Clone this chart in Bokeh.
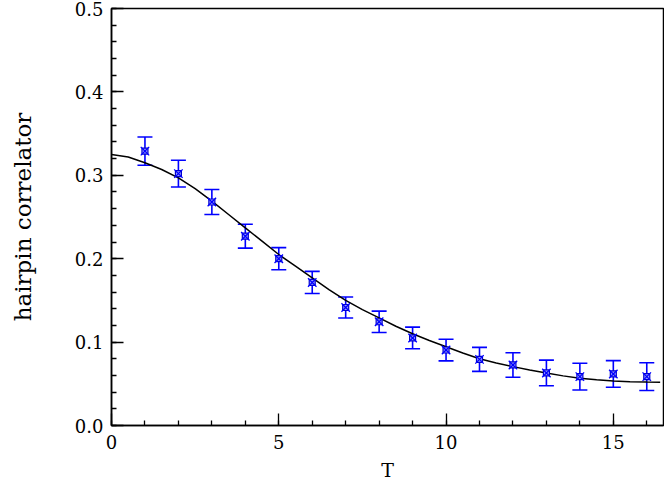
from bokeh.plotting import figure
from bokeh.models import (ColumnDataSource, SingleIntervalTicker, NumeralTickFormatter,
                          Whisker, TeeHead, Range1d)
from bokeh.embed import file_html
from bokeh.resources import INLINE

# ---- data ----
T = [1, 2, 3, 4, 5, 6, 7, 8, 9, 10, 11, 12, 13, 14, 15, 16]
corr = [0.329, 0.302, 0.268, 0.227, 0.200, 0.1715, 0.1415, 0.1244, 0.105, 0.0905,
        0.0793, 0.0726, 0.063, 0.0586, 0.0618, 0.0586]
err = [0.017, 0.016, 0.015, 0.0143, 0.0133, 0.0133, 0.0126, 0.0128, 0.013, 0.013,
       0.0144, 0.0147, 0.0154, 0.016, 0.016, 0.0167]

fit_T = [0, 0.5, 1, 1.5, 2, 2.5, 3, 3.5, 4, 4.5, 5, 5.5, 6, 6.5, 7, 7.5, 8, 8.5,
         9, 9.5, 10, 10.5, 11, 11.5, 12, 12.5, 13, 13.5, 14, 14.5, 15, 15.5, 16, 16.4]
fit_c = [0.325, 0.322, 0.315, 0.307, 0.297, 0.284, 0.269, 0.253, 0.237, 0.221,
         0.205, 0.191, 0.177, 0.163, 0.150, 0.139, 0.129, 0.119, 0.110, 0.102,
         0.0945, 0.087, 0.080, 0.075, 0.0706, 0.0665, 0.063, 0.0595, 0.0566, 0.0548,
         0.0534, 0.0526, 0.0522, 0.052]

x_label = "T"
y_label = "hairpin correlator"

FONT = "DejaVu Serif"

p = figure(output_backend="svg", toolbar_location=None,
           x_range=Range1d(0, 16.5), y_range=Range1d(0, 0.5),
           min_border_left=111, min_border_top=8, min_border_right=1, min_border_bottom=0,
           frame_width=552, frame_height=417)

p.xgrid.visible = False
p.ygrid.visible = False
p.outline_line_color = "black"
p.outline_line_width = 1.5
p.background_fill_color = "white"

# axes
p.xaxis.ticker = SingleIntervalTicker(interval=5, num_minor_ticks=5)
p.yaxis.ticker = SingleIntervalTicker(interval=0.1, num_minor_ticks=5)
p.yaxis.formatter = NumeralTickFormatter(format="0.0")
for ax in (p.xaxis[0], p.yaxis[0]):
    ax.axis_line_width = 1.5
    ax.axis_line_color = "black"
    ax.major_tick_in = 12
    ax.major_tick_out = 0
    ax.minor_tick_in = 5
    ax.minor_tick_out = 0
    ax.major_tick_line_width = 1.3
    ax.minor_tick_line_width = 1.3
    ax.major_label_text_font = FONT
    ax.major_label_text_font_size = "18px"
    ax.major_label_text_color = "black"
    ax.axis_label_text_font = FONT
    ax.axis_label_text_font_style = "normal"
    ax.axis_label_text_color = "black"
p.xaxis.axis_label_text_font_size = "19px"
p.yaxis.axis_label_text_font_size = "23px"
p.xaxis.major_label_standoff = 9
p.yaxis.major_label_standoff = 8
p.xaxis.axis_label = x_label
p.yaxis.axis_label = y_label
p.xaxis.axis_label_standoff = 7
p.yaxis.axis_label_standoff = 36

# fit curve
p.line(fit_T, fit_c, line_color="black", line_width=1.5)

# data with error bars
upper = [c + e for c, e in zip(corr, err)]
lower = [c - e for c, e in zip(corr, err)]
src = ColumnDataSource(dict(T=T, c=corr, up=upper, lo=lower))
w = Whisker(source=src, base="T", upper="up", lower="lo",
            line_color="#0000ff", line_width=1.6,
            upper_head=TeeHead(size=15, line_color="#0000ff", line_width=1.6),
            lower_head=TeeHead(size=15, line_color="#0000ff", line_width=1.6))
p.add_layout(w)
p.scatter("T", "c", source=src, marker="square", size=6, line_color="#0000cc",
          fill_color="#9999ff", line_width=1.2)
p.scatter("T", "c", source=src, marker="x", size=12, line_color="#0000ff", line_width=1.3)

open("out.html", "w").write(file_html(p, INLINE))
